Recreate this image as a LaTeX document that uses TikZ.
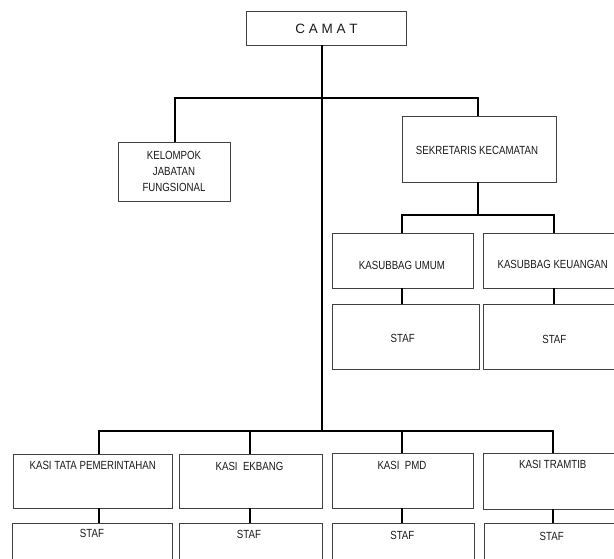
\documentclass[tikz,border=0pt]{standalone}
\usepackage{fontspec}
\setmainfont{Liberation Sans}[FakeStretch=0.82]
\newfontfamily\camatfont{Liberation Sans}
\usetikzlibrary{calc}
\begin{document}
\begin{tikzpicture}[x=1pt,y=-1pt,
  box/.style={draw=black!75, line width=0.8pt, inner sep=0pt, outer sep=0pt, rectangle},
  conn/.style={draw=black, line width=1.8pt},
  txt/.style={font=\fontsize{11.8}{16.3}\selectfont, inner sep=0pt, text=black!90, align=center}]
\useasboundingbox (0,0) rectangle (614,558);
\clip (0,0) rectangle (614,558);
% boxes
\node[box, minimum width=160, minimum height=34] (camat) at (326,28) {};
\node[box, minimum width=112, minimum height=59] (kel) at (174,171.5) {};
\node[box, minimum width=154, minimum height=66] (sek) at (479,149) {};
\node[box, minimum width=141, minimum height=55] (umum) at (402.5,260.5) {};
\node[box, minimum width=157, minimum height=55] (keu) at (561.5,260.5) {};
\node[box, minimum width=147, minimum height=65] (stafu) at (405.5,336.5) {};
\node[box, minimum width=157, minimum height=65] (stafk) at (561.5,336.5) {};
\node[box, minimum width=159, minimum height=54] (tata) at (92.5,481) {};
\node[box, minimum width=143, minimum height=54] (ekbang) at (250.5,481) {};
\node[box, minimum width=141, minimum height=55] (pmd) at (402.5,480.5) {};
\node[box, minimum width=157, minimum height=56] (tramtib) at (561.5,481) {};
\node[box, minimum width=160, minimum height=57] (s1) at (92,551.5) {};
\node[box, minimum width=143, minimum height=57] (s2) at (250.5,551.5) {};
\node[box, minimum width=142, minimum height=57] (s3) at (403,551.5) {};
\node[box, minimum width=156, minimum height=57] (s4) at (562,551.5) {};
% junction coordinates
\coordinate (j0) at (322,98);
\coordinate (jb) at (322,431);
\coordinate (tl) at (175,98);
\coordinate (tr) at (478,98);
\coordinate (sm) at (478,215);
\coordinate (sl) at (402,215);
\coordinate (sr) at (554,215);
\coordinate (b1) at (99,431);
\coordinate (b2) at (250,431);
\coordinate (b3) at (402,431);
\coordinate (b4) at (553,431);
% connectors
\draw[conn] (camat.south -| j0) -- (jb);
\draw[conn] (tl |- kel.north) -- (tl) -- (tr) -- (tr |- sek.north);
\draw[conn] (sek.south -| sm) -- (sm);
\draw[conn] (sl |- umum.north) -- (sl) -- (sr) -- (sr |- keu.north);
\draw[conn] (umum.south -| sl) -- (sl |- stafu.north);
\draw[conn] (keu.south -| sr) -- (sr |- stafk.north);
\draw[conn] (b1 |- tata.north) -- (b1) -- (b4) -- (b4 |- tramtib.north);
\draw[conn] (b2) -- (b2 |- ekbang.north);
\draw[conn] (b3) -- (b3 |- pmd.north);
\draw[conn] (tata.south -| b1) -- (b1 |- s1.north);
\draw[conn] (ekbang.south -| b2) -- (b2 |- s2.north);
\draw[conn] (pmd.south -| b3) -- (b3 |- s3.north);
\draw[conn] (tramtib.south -| b4) -- (b4 |- s4.north);
% texts
\node[txt, font=\camatfont\fontsize{13.5}{16}\selectfont] (tcamat) at (326.5,29) {C A M A T};
\node[txt] (tkel) at (174,171.5) {KELOMPOK\\JABATAN\\FUNGSIONAL};
\node[txt] (tsek) at (477,150.5) {SEKRETARIS KECAMATAN};
\node[txt] (tumum) at (402,265) {KASUBBAG UMUM};
\node[txt] (tkeu) at (552.7,264.5) {KASUBBAG KEUANGAN};
\node[txt] (tstafu) at (402.7,338) {STAF};
\node[txt] (tstafk) at (554.3,339) {STAF};
\node[txt] (ttata) at (92.7,465.5) {KASI TATA PEMERINTAHAN};
\node[txt] (tekbang) at (249.5,466) {KASI\ \ EKBANG};
\node[txt] (tpmd) at (402,465.7) {KASI\ \ PMD};
\node[txt] (ttramtib) at (552.8,464.3) {KASI TRAMTIB};
\node[txt] (ts1) at (92,533.5) {STAF};
\node[txt] (ts2) at (249,534) {STAF};
\node[txt] (ts3) at (402.3,535) {STAF};
\node[txt] (ts4) at (551.7,536) {STAF};
\end{tikzpicture}
\end{document}
